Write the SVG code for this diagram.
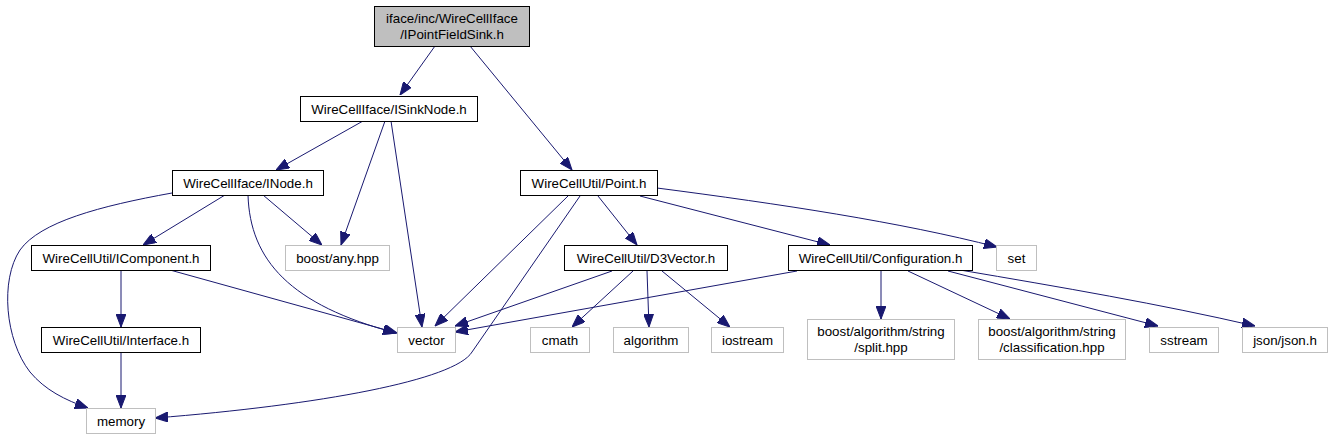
<svg xmlns="http://www.w3.org/2000/svg" width="1333" height="440" viewBox="0 0 1333 440">
<style>
.n rect{fill:#fff;stroke:#000;stroke-width:1}
.g rect{fill:#fff;stroke:#bfbfbf;stroke-width:1}
.root rect{fill:#bfbfbf;stroke:#000;stroke-width:1}
text{font-family:"Liberation Sans",Arial,sans-serif;font-size:13.33px;fill:#000;text-anchor:middle}
#edges path{fill:none;stroke:#191970;stroke-width:1}
</style>
<defs>
<marker id="ah" markerUnits="userSpaceOnUse" markerWidth="13" markerHeight="10" refX="13" refY="5" orient="auto">
<path d="M0,0 L13,5 L0,10 z" fill="#191970" stroke="#191970" stroke-width="1"/>
</marker>
</defs>
<rect width="1333" height="440" fill="#fff"/>
<g id="edges">
<path d="M435,46 L400,95" marker-end="url(#ah)"/>
<path d="M470,46 L572,170" marker-end="url(#ah)"/>
<path d="M363,121 L276,170" marker-end="url(#ah)"/>
<path d="M385,121 L341,245" marker-end="url(#ah)"/>
<path d="M391,121 L422,327" marker-end="url(#ah)"/>
<path d="M225,195 L143,245" marker-end="url(#ah)"/>
<path d="M263,195 L322,245" marker-end="url(#ah)"/>
<path d="M248,195 C250,260 290,305 396,333" marker-end="url(#ah)"/>
<path d="M172,193 C100,206 40,222 20,250 C0,280 5,340 30,372 C45,390 65,400 88,408" marker-end="url(#ah)"/>
<path d="M121,270 L121,327" marker-end="url(#ah)"/>
<path d="M170,270 L397,333" marker-end="url(#ah)"/>
<path d="M121,352 L121,408" marker-end="url(#ah)"/>
<path d="M568,196 L435,326" marker-end="url(#ah)"/>
<path d="M580,196 L472,352 C455,380 320,405 155,418" marker-end="url(#ah)"/>
<path d="M598,196 L637,245" marker-end="url(#ah)"/>
<path d="M640,196 L830,245" marker-end="url(#ah)"/>
<path d="M657,188 C780,204 900,222 997,247" marker-end="url(#ah)"/>
<path d="M612,271 L455,326" marker-end="url(#ah)"/>
<path d="M633,271 L572,327" marker-end="url(#ah)"/>
<path d="M647,271 L649,327" marker-end="url(#ah)"/>
<path d="M662,271 L730,327" marker-end="url(#ah)"/>
<path d="M797,271 L455,332" marker-end="url(#ah)"/>
<path d="M881,271 L881,319" marker-end="url(#ah)"/>
<path d="M908,271 L1010,319" marker-end="url(#ah)"/>
<path d="M948,271 L1158,326" marker-end="url(#ah)"/>
<path d="M960,270 C1060,287 1160,304 1255,326" marker-end="url(#ah)"/>
</g>
<g id="nodes" transform="translate(0.5,0.5)">
<g id="node-root" class="root"><rect x="374" y="6" width="155" height="40"/><text x="451.5" y="22">iface/inc/WireCellIface</text><text x="451.5" y="38">/IPointFieldSink.h</text></g>
<g id="node-isinknode" class="n"><rect x="300" y="96" width="177" height="25"/><text x="388.5" y="113">WireCellIface/ISinkNode.h</text></g>
<g id="node-inode" class="n"><rect x="172" y="170" width="151" height="25"/><text x="247.5" y="187">WireCellIface/INode.h</text></g>
<g id="node-point" class="n"><rect x="520" y="170" width="137" height="25"/><text x="588.5" y="187">WireCellUtil/Point.h</text></g>
<g id="node-icomponent" class="n"><rect x="31" y="245" width="179" height="25"/><text x="120.5" y="262">WireCellUtil/IComponent.h</text></g>
<g id="node-any" class="g"><rect x="285" y="245" width="104" height="25"/><text x="337" y="262">boost/any.hpp</text></g>
<g id="node-d3vector" class="n"><rect x="564" y="245" width="163" height="25"/><text x="645.5" y="262">WireCellUtil/D3Vector.h</text></g>
<g id="node-configuration" class="n"><rect x="788" y="245" width="184" height="25"/><text x="880" y="262">WireCellUtil/Configuration.h</text></g>
<g id="node-set" class="g"><rect x="996" y="245" width="40" height="25"/><text x="1016" y="262">set</text></g>
<g id="node-interface" class="n"><rect x="41" y="327" width="159" height="25"/><text x="120.5" y="344">WireCellUtil/Interface.h</text></g>
<g id="node-vector" class="g"><rect x="397" y="327" width="58" height="25"/><text x="426" y="344">vector</text></g>
<g id="node-cmath" class="g"><rect x="530" y="327" width="59" height="25"/><text x="559.5" y="344">cmath</text></g>
<g id="node-algorithm" class="g"><rect x="613" y="327" width="75" height="25"/><text x="650.5" y="344">algorithm</text></g>
<g id="node-iostream" class="g"><rect x="711" y="327" width="72" height="25"/><text x="747" y="344">iostream</text></g>
<g id="node-split" class="g"><rect x="807" y="319" width="147" height="40"/><text x="880.5" y="335">boost/algorithm/string</text><text x="880.5" y="351">/split.hpp</text></g>
<g id="node-classification" class="g"><rect x="978" y="319" width="147" height="40"/><text x="1051.5" y="335">boost/algorithm/string</text><text x="1051.5" y="351">/classification.hpp</text></g>
<g id="node-sstream" class="g"><rect x="1149" y="327" width="69" height="25"/><text x="1183.5" y="344">sstream</text></g>
<g id="node-json" class="g"><rect x="1242" y="327" width="85" height="25"/><text x="1284.5" y="344">json/json.h</text></g>
<g id="node-memory" class="g"><rect x="86" y="408" width="69" height="25"/><text x="120.5" y="425">memory</text></g>
</g>
</svg>
